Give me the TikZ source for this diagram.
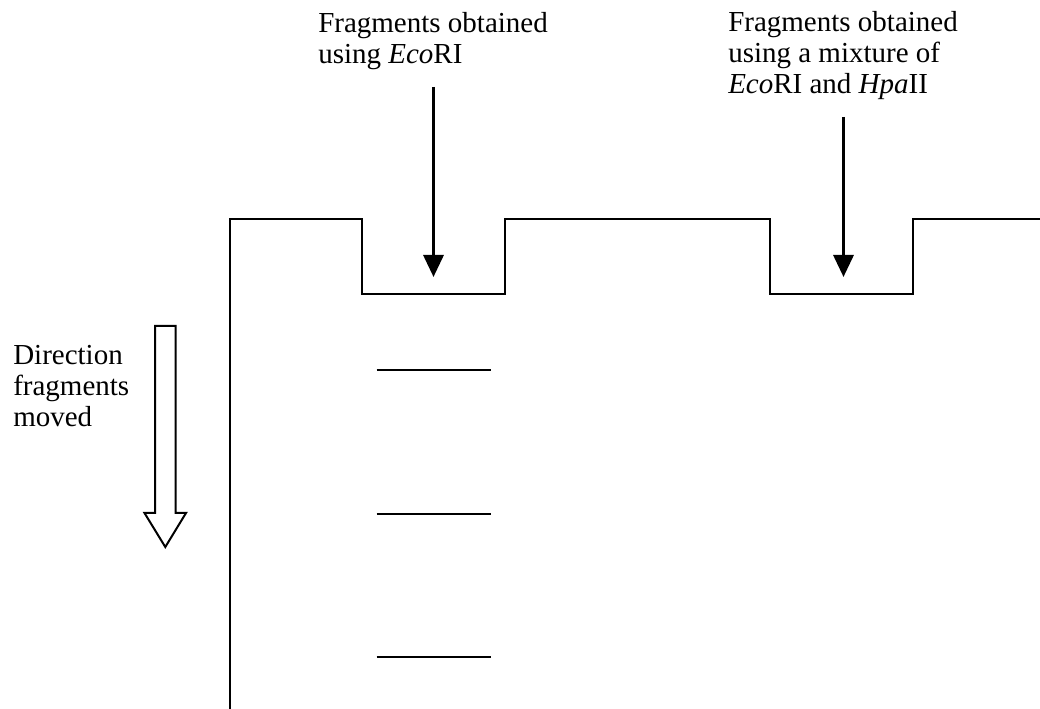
\documentclass[tikz,border=0pt]{standalone}
\usepackage{fontspec}
\setmainfont{Liberation Serif}
\usetikzlibrary{arrows.meta}
\begin{document}
\begin{tikzpicture}[x=0.75pt,y=-0.75pt,
  gel/.style={line width=1.7pt, line join=miter},
  band/.style={line width=1.8pt},
  loadarrow/.style={line width=2.4pt, -{Triangle[width=15pt,length=16.5pt]}},
  hollowarrow/.style={line width=1.5pt, line join=miter, fill=white},
  label/.style={inner sep=0pt, align=left, anchor=north west,
    font=\fontsize{21.75pt}{23.25pt}\selectfont}]
\useasboundingbox (0,0) rectangle (1040,709);

% gel outline with two wells
\draw[gel] (230,712) -- (230,219) -- (362,219) -- (362,294) -- (505,294)
  -- (505,219) -- (770,219) -- (770,294) -- (913,294) -- (913,219) -- (1042,219);

% labels
\node[label] (lecori) at (318,12) {Fragments obtained\\using \textit{Eco}RI};
\node[label] (lmix) at (728,11) {Fragments obtained\\using a mixture of\\\textit{Eco}RI and \textit{Hpa}II};
\node[label] (ldir) at (13,345) {Direction\\fragments\\moved};

% loading arrows into the wells
\coordinate (w1top) at (433.5,87);
\coordinate (w1) at (433.5,277);
\coordinate (w2top) at (843.5,117);
\coordinate (w2) at (843.5,277);
\draw[loadarrow] (w1top) -- (w1);
\draw[loadarrow] (w2top) -- (w2);

% bands in the first lane
\coordinate (b1l) at (376.5,370); \coordinate (b1r) at (490.5,370);
\coordinate (b2l) at (376.5,514); \coordinate (b2r) at (490.5,514);
\coordinate (b3l) at (376.5,657); \coordinate (b3r) at (490.5,657);
\draw[band] (b1l) -- (b1r);
\draw[band] (b2l) -- (b2r);
\draw[band] (b3l) -- (b3r);

% hollow arrow showing direction of movement
\draw[hollowarrow] (155,326) -- (175.5,326) -- (175.5,513) -- (186,513)
  -- (165.3,547) -- (144.5,513) -- (155,513) -- cycle;
\end{tikzpicture}
\end{document}
